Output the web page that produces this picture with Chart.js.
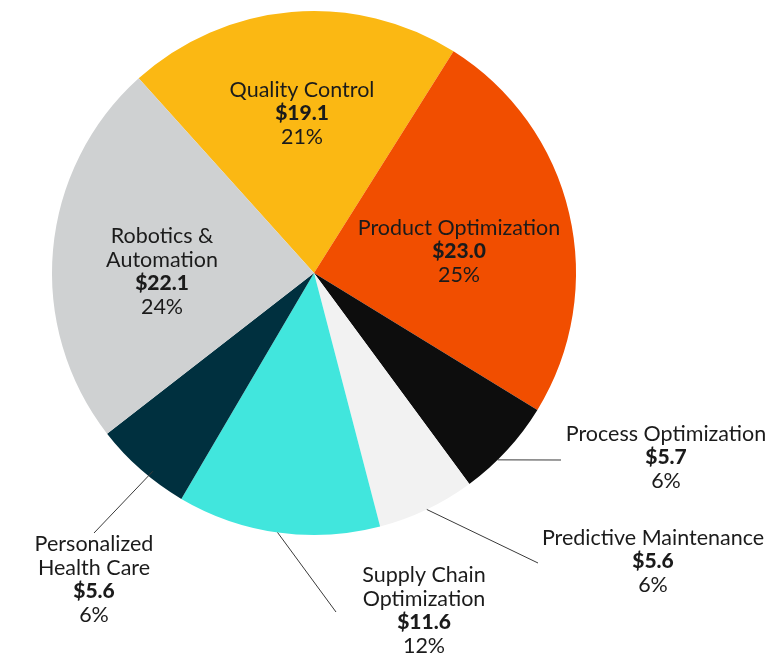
<!DOCTYPE html>
<html>
<head>
<meta charset="utf-8">
<script src="https://cdn.jsdelivr.net/npm/chart.js@4/dist/chart.umd.min.js"></script>
<style>
  html, body { margin: 0; padding: 0; background: #ffffff; }
  #wrap { width: 779px; height: 655px; position: relative; }
</style>
</head>
<body>
<div id="wrap"><canvas id="c" width="779" height="655"></canvas></div>
<script>
// ---- data ----
const categories = [
  ["Quality Control"],
  ["Product Optimization"],
  ["Process Optimization"],
  ["Predictive Maintenance"],
  ["Supply Chain", "Optimization"],
  ["Personalized", "Health Care"],
  ["Robotics &", "Automation"]
];
const values = [19.1, 23.0, 5.7, 5.6, 11.6, 5.6, 22.1];
const percentLabels = [21, 25, 6, 6, 12, 6, 24];
const colors = ["#FBB813", "#F14E00", "#0D0D0D", "#F2F2F2", "#41E6DD", "#00303F", "#CFD1D2"];

// label placement (offsets from pie centre, px) and leader lines
const labelLayout = [
  { dx: -12,  dy: -183 },
  { dx: 145,  dy: -45 },
  { dx: 352,  dy: 161, line: { a: 135.5, ex: 247, ey: 187 } },
  { dx: 339,  dy: 265, line: { a: 154.5, ex: 224, ey: 290 } },
  { dx: 110,  dy: 302, line: { a: 188.0, ex: 22,  ey: 339 } },
  { dx: -220, dy: 271, line: { a: 219.1, r: 0.975, ex: -220, ey: 260 } },
  { dx: -152, dy: -37 }
];

const labelPlugin = {
  id: 'sliceLabels',
  afterDatasetsDraw(chart) {
    const ctx = chart.ctx;
    const meta = chart.getDatasetMeta(0);
    const arc0 = meta.data[0];
    const cx = arc0.x, cy = arc0.y, R = arc0.outerRadius;
    const lh = 23.6;
    ctx.save();
    ctx.textAlign = 'center';
    ctx.textBaseline = 'middle';
    labelLayout.forEach((L, i) => {
      if (L.line) {
        const a = (L.line.a - 90) * Math.PI / 180;
        const rr = R * (L.line.r || 1);
        ctx.beginPath();
        ctx.strokeStyle = '#3a3a3a';
        ctx.lineWidth = 1;
        ctx.moveTo(cx + rr * Math.cos(a), cy + rr * Math.sin(a));
        ctx.lineTo(cx + L.line.ex, cy + L.line.ey);
        ctx.stroke();
      }
      const x = cx + L.dx;
      let y = cy + L.dy;
      ctx.fillStyle = '#1b1b1b';
      categories[i].forEach(t => {
        ctx.font = '400 21.5px Lato';
        ctx.fillText(t, x, y);
        y += lh;
      });
      ctx.font = '900 21px Lato';
      ctx.fillText('$' + values[i].toFixed(1), x, y);
      y += lh;
      ctx.font = '400 21.5px Lato';
      ctx.fillText(percentLabels[i] + '%', x, y);
    });
    ctx.restore();
  }
};

new Chart(document.getElementById('c'), {
  type: 'pie',
  data: {
    labels: categories.map(c => c.join(' ')),
    datasets: [{
      data: values,
      backgroundColor: colors,
      borderWidth: 0,
      hoverOffset: 0
    }]
  },
  options: {
    responsive: false,
    animation: false,
    rotation: -42,
    layout: { padding: { left: 52, right: 203, top: 11, bottom: 120 } },
    plugins: {
      legend: { display: false },
      tooltip: { enabled: false }
    }
  },
  plugins: [labelPlugin]
});
</script>
</body>
</html>
